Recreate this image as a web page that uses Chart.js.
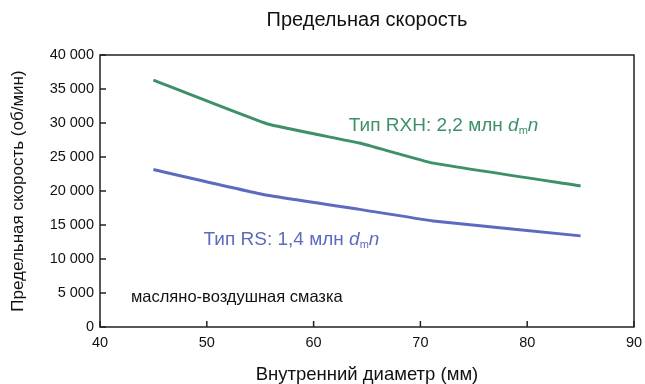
<!DOCTYPE html>
<html>
<head>
<meta charset="utf-8">
<script src="https://cdn.jsdelivr.net/npm/chart.js@4/dist/chart.umd.min.js"></script>
<style>
  html, body { margin: 0; padding: 0; background: #fff; }
  #wrap { width: 645px; height: 384px; }
</style>
</head>
<body>
<div id="wrap"><canvas id="chart" width="645" height="384"></canvas></div>
<script>
const chartTitle = "Предельная скорость"
const xTitle = "Внутренний диаметр (мм)"
const yTitle = "Предельная скорость (об/мин)"

// Тип RXH (green)
const rxhDiam = [45, 55.7, 64.3, 71.2, 85]
const rxhSpeed = [36300, 29850, 27050, 24100, 20750]

// Тип RS (blue)
const rsDiam = [45, 55.4, 64.3, 71.2, 85]
const rsSpeed = [23150, 19450, 17300, 15600, 13400]

const xTicks = [40, 50, 60, 70, 80, 90]
const yTicks = [0, 5000, 10000, 15000, 20000, 25000, 30000, 35000, 40000]

const GREEN = "rgb(62,144,105)"
const BLUE = "rgb(93,107,190)"
const FONT = "'Liberation Sans', Arial, sans-serif"

const fmt = v => String(v).replace(/\B(?=(\d{3})+(?!\d))/g, " ")

// text labels placed in data units
const notes = [
  { x: 63.3, y: 28800, color: GREEN, size: 19, text: "Тип RXH: 2,2 млн ", dmn: true },
  { x: 49.7, y: 12050, color: BLUE, size: 19, text: "Тип RS: 1,4 млн ", dmn: true },
  { x: 42.9, y: 3700, color: "#111", size: 16.5, text: "масляно-воздушная смазка", dmn: false }
]

const framePlugin = {
  id: 'frame',
  afterDraw(chart) {
    const { ctx, chartArea: a, scales } = chart
    ctx.save()
    // box round the plot
    ctx.strokeStyle = "#222"
    ctx.lineWidth = 1.5
    ctx.strokeRect(a.left, a.top, a.right - a.left, a.bottom - a.top)
    // ticks pointing inward
    ctx.beginPath()
    yTicks.forEach(v => {
      const py = scales.y.getPixelForValue(v)
      ctx.moveTo(a.left, py); ctx.lineTo(a.left + 6, py)
    })
    xTicks.forEach(v => {
      const px = scales.x.getPixelForValue(v)
      ctx.moveTo(px, a.bottom); ctx.lineTo(px, a.bottom - 6)
    })
    ctx.stroke()

    // title
    ctx.fillStyle = "#111"
    ctx.font = "20px " + FONT
    ctx.textAlign = "center"
    ctx.textBaseline = "middle"
    ctx.fillText(chartTitle, (a.left + a.right) / 2, 20)

    // annotations
    ctx.textAlign = "left"
    ctx.textBaseline = "alphabetic"
    notes.forEach(n => {
      let px = scales.x.getPixelForValue(n.x)
      const py = scales.y.getPixelForValue(n.y)
      ctx.fillStyle = n.color
      ctx.font = n.size + "px " + FONT
      ctx.fillText(n.text, px, py)
      px += ctx.measureText(n.text).width
      if (n.dmn) {
        ctx.font = "italic " + n.size + "px " + FONT
        ctx.fillText("d", px, py); px += ctx.measureText("d").width
        ctx.font = "11px " + FONT
        ctx.fillText("m", px, py + 3); px += ctx.measureText("m").width
        ctx.font = "italic " + n.size + "px " + FONT
        ctx.fillText("n", px, py)
      }
    })
    ctx.restore()
  }
}

new Chart(document.getElementById("chart"), {
  type: 'line',
  data: {
    datasets: [
      {
        label: 'RXH',
        data: rxhDiam.map((d, i) => ({ x: d, y: rxhSpeed[i] })),
        borderColor: GREEN,
        borderWidth: 3,
        pointRadius: 0,
        tension: 0.1
      },
      {
        label: 'RS',
        data: rsDiam.map((d, i) => ({ x: d, y: rsSpeed[i] })),
        borderColor: BLUE,
        borderWidth: 3,
        pointRadius: 0,
        tension: 0.1
      }
    ]
  },
  options: {
    responsive: false,
    animation: false,
    layout: { padding: { top: 55, right: 11, left: 0, bottom: 0 } },
    plugins: {
      legend: { display: false },
      tooltip: { enabled: false }
    },
    scales: {
      x: {
        type: 'linear',
        min: 40, max: 90,
        afterBuildTicks: s => { s.ticks = xTicks.map(v => ({ value: v })) },
        afterFit: s => { s.height = 57; s.paddingRight = 0; s.paddingLeft = 0 },
        grid: { display: false, drawTicks: false },
        border: { display: false },
        ticks: { color: "#111", padding: 7, font: { family: FONT, size: 14.5 } },
        title: { display: true, text: xTitle, color: "#111", padding: { top: 0, bottom: 0 }, font: { family: FONT, size: 18.5, lineHeight: 1 } }
      },
      y: {
        min: 0, max: 40000,
        afterBuildTicks: s => { s.ticks = yTicks.map(v => ({ value: v })) },
        afterFit: s => { s.width = 100 },
        grid: { display: false, drawTicks: false },
        border: { display: false },
        ticks: { color: "#111", padding: 6, callback: v => fmt(v), font: { family: FONT, size: 14.5 } },
        title: { display: true, text: yTitle, color: "#111", padding: { top: 10, bottom: 0 }, font: { family: FONT, size: 17, lineHeight: 1 } }
      }
    }
  },
  plugins: [framePlugin]
})
</script>
</body>
</html>
